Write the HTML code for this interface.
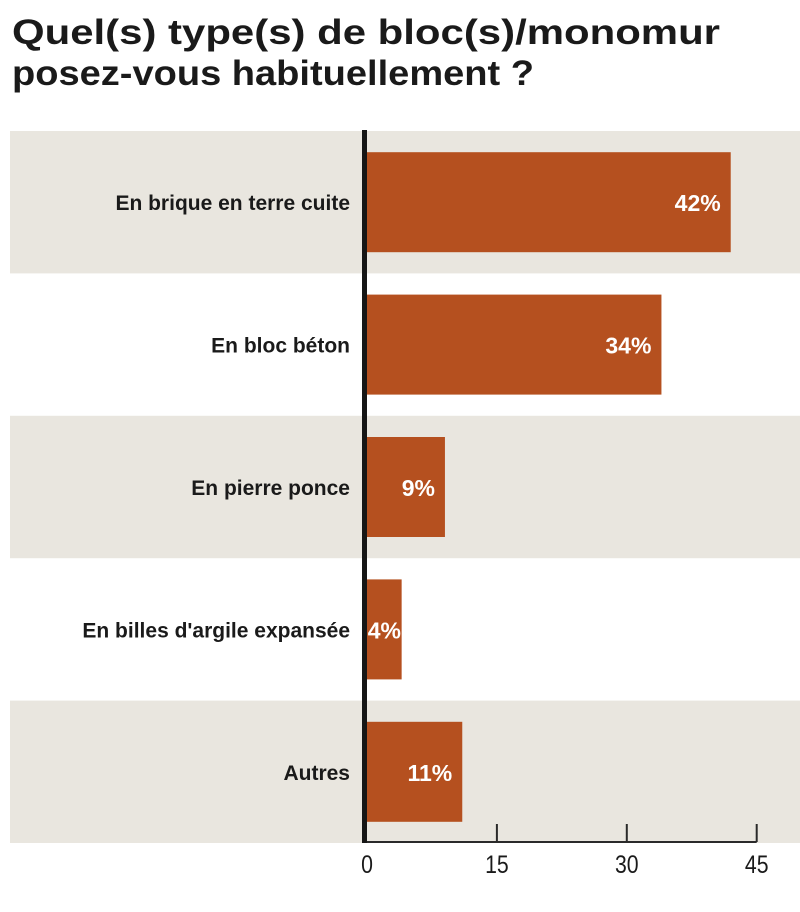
<!DOCTYPE html>
<html><head><meta charset="utf-8"><style>
html,body{margin:0;padding:0;background:#fff;}
svg{display:block;}
</style></head><body>
<svg id="chart" width="800" height="912" viewBox="0 0 800 912" xmlns="http://www.w3.org/2000/svg">
<text x="12" y="44" font-family="Liberation Sans, sans-serif" font-weight="bold" font-size="35" fill="#1a1a1a" textLength="708" lengthAdjust="spacingAndGlyphs">Quel(s) type(s) de bloc(s)/monomur</text>
<text x="12" y="85" font-family="Liberation Sans, sans-serif" font-weight="bold" font-size="35" fill="#1a1a1a" textLength="522" lengthAdjust="spacingAndGlyphs">posez-vous habituellement ?</text>
<g id="plot"></g>
</svg>
<script>
const categories = ["En brique en terre cuite","En bloc béton","En pierre ponce","En billes d'argile expansée","Autres"];
const values = [42,34,9,4,11];
const tickValues = [0,15,30,45];
const tickLabels = ["0","15","30","45"];

const NS = "http://www.w3.org/2000/svg";
const plotG = document.getElementById("plot");
const x0 = 367, pxPerUnit = 8.66;
const xScale = v => x0 + v * pxPerUnit;
const plotTop = 131, rowH = 142.4;
const yRow = i => plotTop + i * rowH;
function mk(tag, attrs){const e=document.createElementNS(NS,tag);for(const k in attrs)e.setAttribute(k,attrs[k]);plotG.appendChild(e);return e;}

categories.forEach((c,i)=>{
  if(i%2===0){
    const band = mk("rect",{x:10,y:yRow(i),width:790,height:rowH,fill:"#e9e6df"});
    
    
  }
});
categories.forEach((c,i)=>{
  const yc = yRow(i) + rowH/2;
  const bar = mk("rect",{x:x0,y:yc-50,width:xScale(values[i])-x0,height:100,fill:"#b5501f"});
  
  
  const lab = mk("text",{x:350,y:yc+8,"text-anchor":"end","font-family":"Liberation Sans, sans-serif","font-weight":"bold","font-size":"21",fill:"#1a1a1a"});
  lab.textContent = c;
  
  
  const endX = xScale(values[i]);
  const small = endX - x0 < 40;
  const vl = mk("text",{x: small ? (x0+endX)/2 : endX-10, y:yc+9,"text-anchor": small ? "middle":"end","font-family":"Liberation Sans, sans-serif","font-weight":"bold","font-size":"23",fill:"#fff"});
  vl.textContent = values[i] + "%";
  
  
});
const baseY = 842;
const axis = mk("line",{x1:362,y1:baseY,x2:xScale(45),y2:baseY,stroke:"#2a2a2a","stroke-width":2});


const yaxis = mk("rect",{x:362,y:130,width:5,height:baseY-130+1,fill:"#161616"});


tickValues.forEach((t,i)=>{
  if(t>0){
    const tk = mk("line",{x1:xScale(t),y1:baseY-18,x2:xScale(t),y2:baseY,stroke:"#2a2a2a","stroke-width":2});
    
    
  }
  const tl = mk("text",{x:xScale(t),y:873,"text-anchor":"middle","font-family":"Liberation Sans, sans-serif","font-size":"25",fill:"#1a1a1a",transform:`translate(${xScale(t)*0.15},0) scale(0.85,1)`});
  tl.textContent = tickLabels[i];
  
  
});
</script>
</body></html>
